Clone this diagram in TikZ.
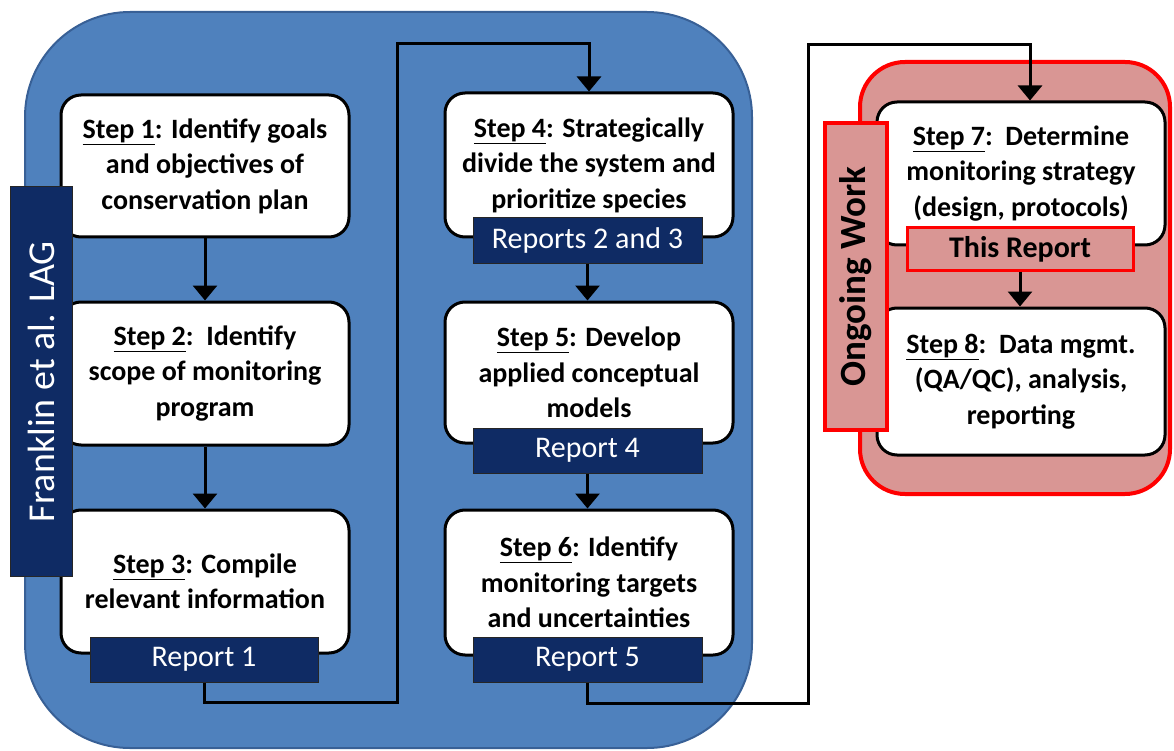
\documentclass[tikz,border=0pt]{standalone}
\usepackage{fontspec}
\setmainfont{Carlito}
\usetikzlibrary{arrows.meta}
\definecolor{panelblue}{RGB}{79,129,189}
\definecolor{panelblueedge}{RGB}{56,96,150}
\definecolor{navy}{RGB}{15,43,100}
\definecolor{rosefill}{RGB}{217,150,148}
\definecolor{brightred}{RGB}{255,0,0}
\tikzset{
  stepbox/.style={draw=black, line width=3pt, fill=white, rounded corners=20pt,
    minimum width=288pt, inner sep=0pt, align=center,
    font=\fontsize{28}{35.5}\selectfont\bfseries},
  reportbar/.style={draw=black!85, line width=1pt, fill=navy, text=white,
    minimum width=229pt, minimum height=45pt, inner sep=0pt,
    font=\fontsize{30}{34}\selectfont},
  sidebar/.style={fill=navy, draw=black!85, line width=1pt, text=white,
    minimum width=62pt, inner sep=0pt, font=\fontsize{38}{40}\selectfont},
  rosebar/.style={fill=rosefill, draw=brightred, line width=3.5pt, inner sep=0pt,
    font=\fontsize{37}{40}\selectfont\bfseries},
  conn/.style={line width=3pt, draw=black},
  arr/.style={conn, -{Triangle[width=24pt,length=15pt]}}
}
\begin{document}
\begin{tikzpicture}[x=1pt,y=-1pt]
\useasboundingbox (0,0) rectangle (1174,751);

% panels
\draw[fill=panelblue, draw=panelblueedge, line width=2pt, rounded corners=105pt]
  (25,12) rectangle (752,748);
\draw[fill=rosefill, draw=brightred, line width=4pt, rounded corners=45pt]
  (860,62) rectangle (1170,494);

% connector routing points
\coordinate (c1a) at (397,702);
\coordinate (c1b) at (397,44);
\coordinate (c2a) at (808,703);
\coordinate (c2b) at (808,45);
\coordinate (c2c) at (1030,45);

% left column
\node[stepbox, minimum height=142pt] (step1) at (205,166)
  {\underline{Step 1}: Identify goals\\and objectives of\\conservation plan};
\node[stepbox, minimum height=143pt] (step2) at (205,373.5)
  {\underline{Step 2}:\ \ Identify\\scope of monitoring\\program};
\node[stepbox, minimum height=143pt] (step3) at (205,581.5)
  {\underline{Step 3}: Compile\\relevant information};
\node[reportbar, minimum width=228pt] (rep1) at (204,659.5) {Report 1};

% middle column
\node[stepbox, minimum height=144pt] (step4) at (589,165)
  {\underline{Step 4}: Strategically\\divide the system and\\prioritize species};
\node[reportbar] (rep23) at (587.5,240.5) {Reports 2 and 3};
\node[stepbox, minimum height=141pt] (step5) at (589,372.5)
  {\underline{Step 5}: Develop\\applied conceptual\\models};
\node[reportbar] (rep4) at (587.5,450.5) {Report 4};
\node[stepbox, minimum height=145pt] (step6) at (589,582.5)
  {\underline{Step 6}: Identify\\monitoring targets\\and uncertainties};
\node[reportbar] (rep5) at (587.5,659.5) {Report 5};

% right column
\node[stepbox, minimum height=143pt] (step7) at (1021,173.5)
  {\underline{Step 7}:\ \ Determine\\monitoring strategy\\(design, protocols)};
\node[rosebar, line width=3pt, minimum width=226pt, minimum height=42pt,
  font=\fontsize{30}{34}\selectfont\bfseries] (thisrep) at (1020,249) {This Report};
\node[stepbox, minimum height=147pt] (step8) at (1021,381.5)
  {\underline{Step 8}:\ \ Data mgmt.\\(QA/QC), analysis,\\reporting};

% side labels
\node[sidebar, minimum height=389pt] (franklin) at (41,381.5)
  {\rotatebox{90}{Franklin et al. LAG}};
\node[rosebar, minimum width=62pt, minimum height=307pt] (ongoing) at (856,276.5)
  {\rotatebox{90}{Ongoing Work}};

% flow arrows
\draw[arr] (step1.south) -- (step2.north);
\draw[arr] (step2.south) -- (step3.north);
\draw[arr] (rep23.south) -- (rep23.south |- step5.north);
\draw[arr] (rep4.south) -- (rep4.south |- step6.north);
\draw[arr] (thisrep.south) -- (thisrep.south |- step8.north);
\draw[arr] (rep1.south) |- (c1a) -- (c1b) -| (step4.north);
\draw[arr] (rep5.south) |- (c2a) -- (c2b) -- (c2c) -- (c2c |- step7.north);
\end{tikzpicture}
\end{document}
